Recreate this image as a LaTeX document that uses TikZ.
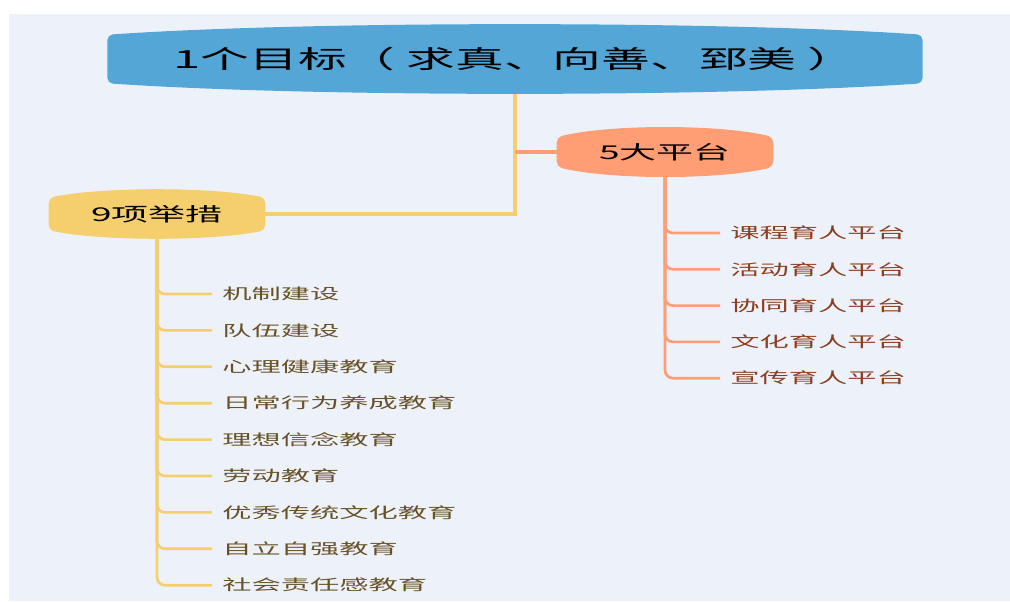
\documentclass[tikz,border=0pt]{standalone}
\usepackage{fontspec}
\usetikzlibrary{calc,backgrounds}
\newfontfamily\cjk[FakeStretch=1.95]{Noto Sans CJK SC}

\definecolor{bgblue}{RGB}{237,242,250}
\definecolor{rootblue}{RGB}{84,166,214}
\definecolor{mustard}{RGB}{245,206,110}
\definecolor{salmon}{RGB}{255,158,116}
\definecolor{leafbrown}{RGB}{105,82,40}
\definecolor{leafrust}{RGB}{140,62,32}

\pgfdeclarelayer{lines}
\pgfdeclarelayer{shapes}
\pgfsetlayers{background,lines,shapes,main}

% 上下微凸的圆角框
\newcommand{\capsule}[3]{%
  \begin{pgfonlayer}{shapes}
    \fill[#2, rounded corners=4pt] (#1.west) -- (#1.north west)
      .. controls ($(#1.north west)!0.25!(#1.north east)+(0,-#3)$) and ($(#1.north west)!0.75!(#1.north east)+(0,-#3)$) .. (#1.north east)
      -- (#1.south east)
      .. controls ($(#1.south east)!0.25!(#1.south west)+(0,#3)$) and ($(#1.south east)!0.75!(#1.south west)+(0,#3)$) .. (#1.south west)
      -- cycle;
  \end{pgfonlayer}}

\tikzset{
  topic/.style={inner sep=0pt, font=\cjk\fontsize{14.25}{16}\selectfont},
  leaf/.style={anchor=west, inner xsep=7.5pt, inner ysep=0pt, font=\cjk\fontsize{11.25}{13}\selectfont},
  twig/.style={line width=2pt, rounded corners=6pt},
}

\begin{document}
\begin{tikzpicture}[x=0.75pt, y=-0.75pt]
    \useasboundingbox (0,0) rectangle (1010,601);
    \begin{pgfonlayer}{background}
      \fill[bgblue] (9,14) rectangle (1010,601);
    \end{pgfonlayer}

    % 目标
    \node[topic, minimum width=611pt, minimum height=36pt, font=\cjk\fontsize{18.75}{22}\selectfont] (goal) at (515,59) {1个目标（ 求真、向善、郅美 ）};
    \capsule{goal}{rootblue}{14}

    % 平台与举措
    \node[topic, minimum width=162pt, minimum height=22pt] (plat) at (665,152) {5大平台};
    \capsule{plat}{salmon}{13}
    \node[topic, minimum width=162pt, minimum height=24pt] (acts) at (157,214) {9项举措};
    \capsule{acts}{mustard}{11}

    \begin{pgfonlayer}{lines}
      \draw[line width=2.5pt, mustard] (goal.south) |- (acts.east);
      \draw[line width=2.5pt, salmon] (goal.south |- plat.west) -- (plat.west);
    \end{pgfonlayer}

    % 9项举措
    \foreach \txt [count=\i] in {机制建设, 队伍建设, 心理健康教育, 日常行为养成教育, 理想信念教育, 劳动教育, 优秀传统文化教育, 自立自强教育, 社会责任感教育} {
      \node[leaf, text=leafbrown] (acts\i) at (212,{294+36.4*(\i-1)}) {\txt};
      \begin{pgfonlayer}{lines}
        \draw[twig, mustard] (acts.south) |- (acts\i.west);
      \end{pgfonlayer}
    }

    % 5大平台
    \foreach \txt [count=\i] in {课程育人平台, 活动育人平台, 协同育人平台, 文化育人平台, 宣传育人平台} {
      \node[leaf, text=leafrust] (plat\i) at (720,{233+36.3*(\i-1)}) {\txt};
      \begin{pgfonlayer}{lines}
        \draw[twig, salmon] (plat.south) |- (plat\i.west);
      \end{pgfonlayer}
    }
\end{tikzpicture}
\end{document}
